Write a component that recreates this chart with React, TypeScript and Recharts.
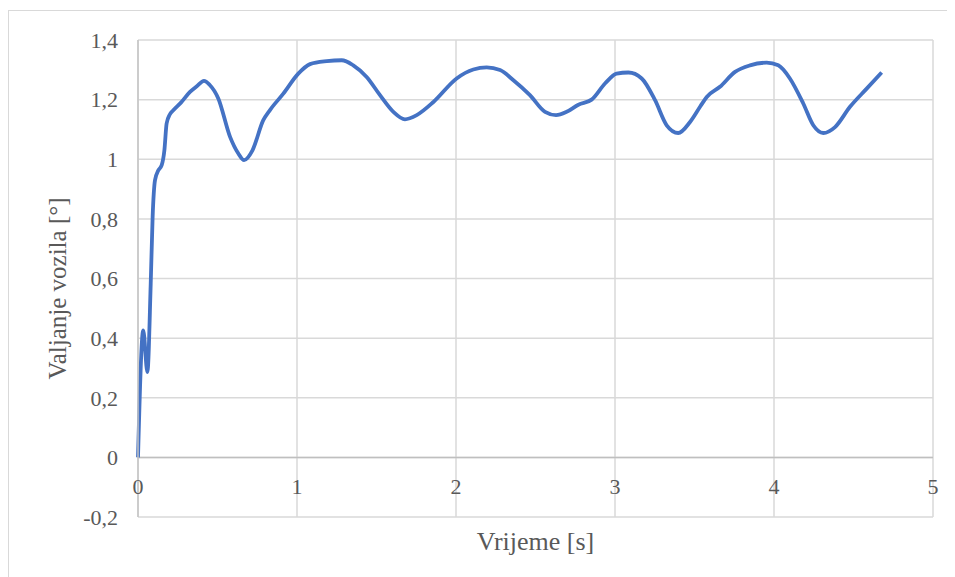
import React from 'react';
import { LineChart, Line, XAxis, YAxis, CartesianGrid, ReferenceLine, Label } from 'recharts';

const timeS = [
  0, 0.033, 0.059, 0.08, 0.092, 0.107, 0.128, 0.149, 0.166, 0.18, 0.2, 0.222, 0.27, 0.327, 0.37,
  0.415, 0.45, 0.505, 0.579, 0.63, 0.667, 0.72, 0.788, 0.83, 0.914, 1.008, 1.082, 1.187, 1.281,
  1.354, 1.438, 1.522, 1.606, 1.679, 1.753, 1.858, 2.004, 2.109, 2.193, 2.277, 2.361, 2.465, 2.56,
  2.629, 2.696, 2.77, 2.853, 2.937, 3.01, 3.084, 3.168, 3.252, 3.325, 3.398, 3.472, 3.535, 3.577,
  3.66, 3.755, 3.849, 3.954, 4.027, 4.1, 4.184, 4.247, 4.31, 4.384, 4.478, 4.583, 4.677,
];
const rollDeg = [
  0, 0.426, 0.286, 0.583, 0.806, 0.93, 0.963, 0.98, 1.03, 1.12, 1.15, 1.164, 1.19, 1.226, 1.245,
  1.263, 1.25, 1.204, 1.075, 1.02, 0.997, 1.03, 1.131, 1.165, 1.22, 1.287, 1.319, 1.329, 1.332,
  1.315, 1.276, 1.215, 1.159, 1.134, 1.148, 1.192, 1.271, 1.301, 1.308, 1.299, 1.265, 1.215, 1.159,
  1.148, 1.159, 1.183, 1.2, 1.254, 1.287, 1.291, 1.271, 1.198, 1.114, 1.088, 1.125, 1.176, 1.209,
  1.243, 1.293, 1.315, 1.324, 1.315, 1.271, 1.187, 1.114, 1.088, 1.108, 1.176, 1.237, 1.291,
];
const xTicks = [0, 1, 2, 3, 4, 5];
const yTicks = [-0.2, 0, 0.2, 0.4, 0.6, 0.8, 1, 1.2, 1.4];
const xTitle = 'Vrijeme [s]';
const yTitle = 'Valjanje vozila [°]';

const data = timeS.map((t, i) => ({ t, v: rollDeg[i] }));

const FONT = "'Liberation Serif'";
const TXT = '#595959';

const fmt = (v: number) => String(v).replace('.', ',');

const XTick = (props: any) => {
  const { x, y, payload } = props;
  return (
    <text x={x} y={y - 31} dy="0.355em" textAnchor="middle" fill={TXT} fontFamily="Liberation Serif" style={{ fontFamily: FONT, fontSize: 22 }}>
      {fmt(payload.value)}
    </text>
  );
};

const YTick = (props: any) => {
  const { x, y, payload } = props;
  return (
    <text x={x} y={y} dy="0.355em" textAnchor="end" fill={TXT} fontFamily="Liberation Serif" style={{ fontFamily: FONT, fontSize: 22 }}>
      {fmt(payload.value)}
    </text>
  );
};

const XTitle = (props: any) => {
  const vb = props.viewBox;
  return (
    <text x={vb.x + vb.width / 2} y={533} dy="0.35em" textAnchor="middle" fill={TXT} fontFamily="Liberation Serif" style={{ fontFamily: FONT, fontSize: 26 }}>
      {xTitle}
    </text>
  );
};

const YTitle = (props: any) => {
  const vb = props.viewBox;
  const cx = 49;
  const cy = vb.y + vb.height / 2 + 10;
  return (
    <text x={cx} y={cy} dy="0.35em" textAnchor="middle" transform={`rotate(-90, ${cx}, ${cy})`} fill={TXT} fontFamily="Liberation Serif" style={{ fontFamily: FONT, fontSize: 25 }}>
      {yTitle}
    </text>
  );
};

export default function App() {
  return (
    <div style={{ position: 'relative', width: 944, height: 569 }}>
      <div
        style={{
          position: 'absolute',
          left: 0,
          top: 2,
          width: 942,
          height: 570,
          border: '1px solid #d9d9d9',
          boxSizing: 'content-box',
        }}
      />
      <div style={{ position: 'absolute', left: 0, top: 0 }}>
        <LineChart width={944} height={569} data={data} margin={{ top: 32, right: 19, bottom: 0, left: 0 }}>
          <CartesianGrid stroke="#d9d9d9" strokeWidth={1.5} horizontalValues={yTicks} verticalValues={xTicks} />
          <XAxis
            dataKey="t"
            type="number"
            domain={[0, 5]}
            ticks={xTicks}
            interval={0}
            height={60}
            axisLine={false}
            tickLine={false}
            tickSize={0}
            tickMargin={0}
            tick={<XTick />}
          >
            <Label content={<XTitle />} />
          </XAxis>
          <YAxis
            type="number"
            domain={[-0.2, 1.4]}
            ticks={yTicks}
            interval={0}
            width={130}
            axisLine={{ stroke: '#c4c4c4', strokeWidth: 1.5 }}
            tickLine={false}
            tickSize={0}
            tickMargin={20}
            tick={<YTick />}
          >
            <Label content={<YTitle />} />
          </YAxis>
          <ReferenceLine y={0} stroke="#bfbfbf" strokeWidth={1.5} />
          <Line
            type="monotone"
            dataKey="v"
            stroke="#4472C4"
            strokeWidth={3.8}
            dot={false}
            activeDot={false}
            isAnimationActive={false}
          />
        </LineChart>
      </div>
    </div>
  );
}
